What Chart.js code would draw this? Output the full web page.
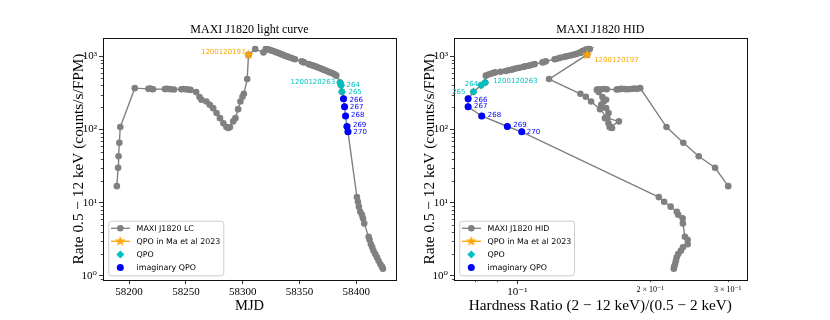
<!DOCTYPE html>
<html><head><meta charset="utf-8">
<script src="https://cdn.jsdelivr.net/npm/chart.js@4.4.0/dist/chart.umd.min.js"></script>
<style>
html,body{margin:0;padding:0;background:#fff;width:830px;height:320px;overflow:hidden}
#c1{position:absolute;left:0;top:0}
#c2{position:absolute;left:415px;top:0}
</style></head><body>
<canvas id="c1" width="415" height="320"></canvas>
<canvas id="c2" width="415" height="320"></canvas>
<script>
// ---------------- DATA ----------------
// MAXI J1820 observations (other than those marked as QPO): MJD, rate (counts/s/FPM), hardness ratio
const obsMjd = [58189.2, 58190.3, 58190.7, 58191.4, 58192.2,
  58205.0, 58217.0, 58218.5, 58220.0, 58221.0, 58231.5, 58233.0, 58235.0, 58237.0, 58239.5,
  58246.0, 58248.0, 58250.0, 58252.0, 58254.0,
  58259.0, 58262.0, 58263.7, 58268.0, 58271.0, 58274.0, 58277.0, 58280.0, 58283.0, 58285.7, 58287.2, 58288.7,
  58291.6, 58293.6, 58296.0, 58298.0, 58299.8, 58301.0, 58304.0,
  58311.0, 58318.3, 58320.3, 58321.5, 58323.0, 58324.5, 58326.0, 58327.5, 58329.0, 58330.3, 58331.5, 58333.0,
  58334.5, 58336.0, 58337.4, 58339.0, 58340.3, 58342.5, 58344.8, 58346.0, 58352.0, 58353.0, 58354.0, 58358.0,
  58359.5, 58361.0, 58362.4, 58364.0, 58365.3, 58367.0, 58368.3, 58370.0, 58371.2, 58372.5, 58374.1, 58375.5,
  58377.0, 58378.5, 58380.0, 58381.2, 58382.4,
  58400.6, 58401.5, 58402.3, 58403.5, 58405.0, 58405.9, 58407.0, 58410.9, 58411.7, 58412.9, 58414.1, 58415.2,
  58416.7, 58418.2, 58419.6, 58421.1, 58422.6, 58423.5];
const obsRate = [16.8, 30, 43, 66, 108,
  368, 360, 362, 358, 355, 357, 360, 358, 355, 352,
  355, 358, 356, 352, 348,
  325, 278, 255, 242, 218, 196, 168, 143, 122, 108, 105, 107,
  129, 143, 190, 242, 280, 308, 490,
  1260, 1135, 1262, 1250, 1236, 1215, 1197, 1172, 1149, 1130, 1113, 1088,
  1065, 1042, 1022, 1000, 982, 955, 930, 915, 855, 840, 828, 785,
  769, 757, 746, 730, 716, 700, 686, 670, 658, 645, 631, 618,
  604, 592, 580, 565, 545,
  11.9, 10.3, 8.8, 7.5, 6.8, 6.1, 5.2, 3.4, 3.1, 2.7, 2.45, 2.2,
  1.98, 1.79, 1.6, 1.45, 1.33, 1.25];
const obsHR = [0.301, 0.281, 0.258, 0.238, 0.218,
  0.190, 0.187, 0.184, 0.181, 0.178, 0.1755, 0.1725, 0.171, 0.1695, 0.168,
  0.1595, 0.157, 0.154, 0.152, 0.1515,
  0.153, 0.156, 0.159, 0.157, 0.155, 0.159, 0.161, 0.158, 0.161, 0.163, 0.164, 0.162,
  0.170, 0.160, 0.154, 0.147, 0.143, 0.139, 0.118,
  0.146, 0.140, 0.1455, 0.1445, 0.143, 0.1425, 0.141, 0.1405, 0.1395, 0.139, 0.138, 0.1365,
  0.135, 0.133, 0.131, 0.129, 0.1275, 0.125, 0.123, 0.1215, 0.116, 0.115, 0.114, 0.1095,
  0.108, 0.107, 0.106, 0.104, 0.103, 0.101, 0.0995, 0.098, 0.097, 0.0955, 0.094, 0.0915,
  0.089, 0.088, 0.087, 0.086, 0.0848,
  0.2094, 0.2153, 0.2228, 0.230, 0.2318, 0.2372, 0.2375, 0.240, 0.2435, 0.2435, 0.2375, 0.235,
  0.2318, 0.230, 0.229, 0.228, 0.227, 0.2265];

// QPO in Ma et al 2023
const maMjd = [58305.1];
const maRate = [1055];
const maHR = [0.144];
const maLabels = ['1200120197'];

// QPO
const qpoMjd = [58385.8, 58386.6, 58387.4];
const qpoRate = [440, 402, 328];
const qpoHR = [0.0845, 0.0827, 0.0795];
const qpoLabels = ['1200120263', '264', '265'];

// imaginary QPO
const imMjd = [58388.8, 58389.7, 58390.6, 58391.8, 58392.7];
const imRate = [263, 204, 153, 110, 93];
const imHR = [0.0773, 0.0773, 0.083, 0.0949, 0.1023];
const imLabels = ['266', '267', '268', '269', '270'];

// axes
const lcXTicks = [58200, 58250, 58300, 58350, 58400];
const yTicks = [1, 10, 100, 1000];
const yTickLabels = ['10⁰', '10¹', '10²', '10³'];
const hrXTicks = [0.1, 0.2, 0.3];
const hrXTickLabels = ['10⁻¹', '2 × 10⁻¹', '3 × 10⁻¹'];

// ---------------- BUILD ----------------
const GREY = '#808080', ORANGE = '#FFA500', CYAN = '#00BFBF', BLUE = '#0000FF';
const SERIF = '"Liberation Serif", "DejaVu Serif", serif';
const SANS = '"DejaVu Sans", sans-serif';

function allObs(xKey) {
  const rows = [];
  const add = (m, r, h) => m.forEach((v, i) => rows.push({m: v, r: r[i], h: h[i]}));
  add(obsMjd, obsRate, obsHR); add(maMjd, maRate, maHR); add(qpoMjd, qpoRate, qpoHR); add(imMjd, imRate, imHR);
  rows.sort((a, b) => a.m - b.m);
  return rows.map(o => ({x: xKey === 'mjd' ? o.m : o.h, y: o.r}));
}
function pts(m, r, h, xKey) { return m.map((v, i) => ({x: xKey === 'mjd' ? v : h[i], y: r[i]})); }

function makeStar(R, r, color) {
  const c = document.createElement('canvas');
  const s = Math.ceil(2 * R + 2); c.width = c.height = s;
  const g = c.getContext('2d'); g.fillStyle = color; g.beginPath();
  for (let i = 0; i < 10; i++) {
    const a = -Math.PI / 2 + i * Math.PI / 5, rr = i % 2 ? r : R;
    g.lineTo(s / 2 + rr * Math.cos(a), s / 2 + rr * Math.sin(a));
  }
  g.closePath(); g.fill(); return c;
}
const starImg = makeStar(5.6, 2.3, ORANGE);

function minorVals(min, max) {
  const out = [];
  for (let k = -3; k <= 4; k++) for (let j = 2; j <= 9; j++) { const v = j * Math.pow(10, k); if (v > min && v < max) out.push(v); }
  return out;
}

const framePlugin = {
  id: 'frameDeco',
  afterDraw(chart) {
    const {ctx, chartArea: ca, scales} = chart;
    const cfg = chart.options.plugins.frameDeco;
    ctx.save();
    // minor ticks
    ctx.strokeStyle = '#000'; ctx.lineWidth = 0.7;
    minorVals(scales.y.min, scales.y.max).forEach(v => {
      const p = Math.round(scales.y.getPixelForValue(v)) + 0.5;
      ctx.beginPath(); ctx.moveTo(ca.left, p); ctx.lineTo(ca.left - 2.2, p); ctx.stroke();
    });
    if (cfg.xMinor) cfg.xMinor.forEach(v => {
      const p = Math.round(scales.x.getPixelForValue(v)) + 0.5;
      ctx.beginPath(); ctx.moveTo(p, ca.bottom); ctx.lineTo(p, ca.bottom + 2.2); ctx.stroke();
    });
    // frame
    ctx.strokeStyle = '#111'; ctx.lineWidth = 1;
    ctx.strokeRect(Math.round(ca.left) + 0.5, Math.round(ca.top) + 0.5, Math.round(ca.right - ca.left), Math.round(ca.bottom - ca.top));
    // annotations
    ctx.font = '7px ' + SANS; ctx.textBaseline = 'middle';
    cfg.labels.forEach(l => {
      const px = scales.x.getPixelForValue(l.x), py = scales.y.getPixelForValue(l.y);
      ctx.fillStyle = l.color; ctx.textAlign = l.align;
      ctx.fillText(l.text, px + l.dx, py + l.dy);
    });
    // legend
    const lx = ca.left + 5.3, ly = ca.bottom - 59.3, lw = cfg.legendW, lh = 54.6;
    ctx.beginPath();
    if (ctx.roundRect) ctx.roundRect(lx + 0.5, ly + 0.5, lw, lh, 2.5); else ctx.rect(lx + 0.5, ly + 0.5, lw, lh);
    ctx.fillStyle = 'rgba(255,255,255,0.8)'; ctx.fill();
    ctx.strokeStyle = '#cccccc'; ctx.lineWidth = 1; ctx.stroke();
    const rows = [-51.7, -38.7, -25.4, -12.4];
    const items = [
      {text: cfg.firstLabel, color: GREY, line: true, style: 'circle', r: 3.3},
      {text: 'QPO in Ma et al 2023', color: ORANGE, line: true, style: starImg, r: 5},
      {text: 'QPO', color: CYAN, line: false, style: 'rectRot', r: 4},
      {text: 'imaginary QPO', color: BLUE, line: false, style: 'circle', r: 3.5}
    ];
    items.forEach((it, i) => {
      const y = ca.bottom + rows[i];
      if (it.line) {
        ctx.strokeStyle = it.color; ctx.lineWidth = 1.3;
        ctx.beginPath(); ctx.moveTo(ca.left + 8, y); ctx.lineTo(ca.left + 27, y); ctx.stroke();
      }
      ctx.fillStyle = it.color; ctx.strokeStyle = it.color;
      Chart.helpers.drawPoint(ctx, {pointStyle: it.style, radius: it.r, borderWidth: 0, rotation: 0}, ca.left + 17.3, y);
      ctx.fillStyle = '#000'; ctx.textAlign = 'left'; ctx.textBaseline = 'middle';
      ctx.font = '7.9px ' + SANS;
      ctx.fillText(it.text, ca.left + 33.6, y + 0.5);
    });
    ctx.restore();
  }
};

function datasets(xKey) {
  return [
    {data: allObs(xKey), showLine: true, borderColor: GREY, borderWidth: 1.4, pointRadius: 3.3,
     pointBackgroundColor: GREY, pointBorderWidth: 0, order: 10},
    {data: pts(maMjd, maRate, maHR, xKey), pointStyle: starImg, pointRadius: 5, order: 1},
    {data: pts(qpoMjd, qpoRate, qpoHR, xKey), pointStyle: 'rectRot', pointRadius: 4,
     pointBackgroundColor: CYAN, pointBorderWidth: 0, order: 2},
    {data: pts(imMjd, imRate, imHR, xKey), pointStyle: 'circle', pointRadius: 3.5,
     pointBackgroundColor: BLUE, pointBorderWidth: 0, order: 3}
  ];
}

function yScale(titlePad) {
  return {
    type: 'logarithmic', min: 0.874, max: 1785,
    afterBuildTicks: s => { s.ticks = yTicks.map(v => ({value: v})); },
    afterFit: s => { s.width = s.chart.options.plugins.frameDeco.yWidth; },
    ticks: {callback: v => yTickLabels[yTicks.indexOf(v)], font: {family: SERIF, size: 11}, color: '#000', padding: 2, autoSkip: false},
    grid: {drawOnChartArea: false, tickLength: 4, tickColor: '#000', tickWidth: 0.8},
    border: {display: false},
    title: {display: true, text: 'Rate 0.5 − 12 keV (counts/s/FPM)', font: {family: SERIF, size: 15.3}, color: '#000', padding: {top: titlePad, bottom: 0}}
  };
}

function baseOptions(title, padRight, yW, labels, firstLabel, legendW, xMinor) {
  return {
    responsive: false, animation: false, events: [],
    layout: {padding: {left: 0, right: padRight, top: 0, bottom: 0}},
    plugins: {
      legend: {display: false}, tooltip: {enabled: false},
      title: {display: true, text: title, fullSize: false, font: {family: SERIF, size: 12, weight: 'normal'}, color: '#000', padding: {top: 22.8, bottom: 0.8}},
      frameDeco: {labels, firstLabel, legendW, yWidth: yW, xMinor}
    }
  };
}

function lbl(xs, ys, texts, color, offs) {
  return texts.map((t, i) => ({x: xs[i], y: ys[i], text: t, color, align: offs[i][0], dx: offs[i][1], dy: offs[i][2]}));
}

// ---------- Left: light curve ----------
const lcLabels = [].concat(
  lbl(maMjd, maRate, maLabels, ORANGE, [['right', -3, -3]]),
  lbl(qpoMjd, qpoRate, qpoLabels, CYAN, [['right', -5, -0.5], ['left', 5.5, -0.5], ['left', 6.5, 0.5]]),
  lbl(imMjd, imRate, imLabels, BLUE, [['left', 6, 1], ['left', 5.5, 0], ['left', 5.5, -0.5], ['left', 6, -1.4], ['left', 5.6, 0.6]])
);
const opt1 = baseOptions('MAXI J1820 light curve', 19, 103, lcLabels, 'MAXI J1820 LC', 115, null);
opt1.scales = {
  x: {
    type: 'linear', min: 58177, max: 58435,
    afterBuildTicks: s => { s.ticks = lcXTicks.map(v => ({value: v})); },
    afterFit: s => { s.height = 40; },
    ticks: {callback: v => String(v), font: {family: SERIF, size: 11}, color: '#000', padding: 1.5, maxRotation: 0, autoSkip: false},
    grid: {drawOnChartArea: false, tickLength: 4, tickColor: '#000', tickWidth: 0.8},
    border: {display: false},
    title: {display: true, text: 'MJD', font: {family: SERIF, size: 14.5}, color: '#000', padding: {top: 0, bottom: 5.6}}
  },
  y: yScale(69.6)
};
new Chart(document.getElementById('c1'), {type: 'scatter', data: {datasets: datasets('mjd')}, options: opt1, plugins: [framePlugin]});

// ---------- Right: HID ----------
const hrLabels = [].concat(
  lbl(maHR, maRate, maLabels, ORANGE, [['left', 7, 5]]),
  lbl(qpoHR, qpoRate, qpoLabels, CYAN, [['left', 8, -1.5], ['right', -3, -1], ['right', -8, 0.5]]),
  lbl(imHR, imRate, imLabels, BLUE, [['left', 6, 1], ['left', 6, -1], ['left', 6, -0.5], ['left', 6, -1.5], ['left', 5, 0.3]])
);
const opt2 = baseOptions('MAXI J1820 HID', 83.3, 39, hrLabels, 'MAXI J1820 HID', 114.7, [0.08, 0.09, 0.2, 0.3]);
opt2.scales = {
  x: {
    type: 'logarithmic', min: 0.0718, max: 0.3315,
    afterBuildTicks: s => { s.ticks = hrXTicks.map(v => ({value: v})); },
    afterFit: s => { s.height = 40; },
    ticks: {callback: v => hrXTickLabels[hrXTicks.indexOf(v)],
            font: c => ({family: SERIF, size: (c.tick && c.tick.value === 0.1) ? 11 : 8}),
            color: '#000', padding: 1.5, maxRotation: 0, autoSkip: false},
    grid: {drawOnChartArea: false, tickLength: 4, tickWidth: 0.8,
           tickColor: c => (c.tick && c.tick.value === 0.1) ? '#000' : 'rgba(0,0,0,0)'},
    border: {display: false},
    title: {display: true, text: 'Hardness Ratio (2 − 12 keV)/(0.5 − 2 keV)', font: {family: SERIF, size: 15.3}, color: '#000', padding: {top: 0, bottom: 4.9}}
  },
  y: yScale(5.6)
};
new Chart(document.getElementById('c2'), {type: 'scatter', data: {datasets: datasets('hr')}, options: opt2, plugins: [framePlugin]});
</script></body></html>
